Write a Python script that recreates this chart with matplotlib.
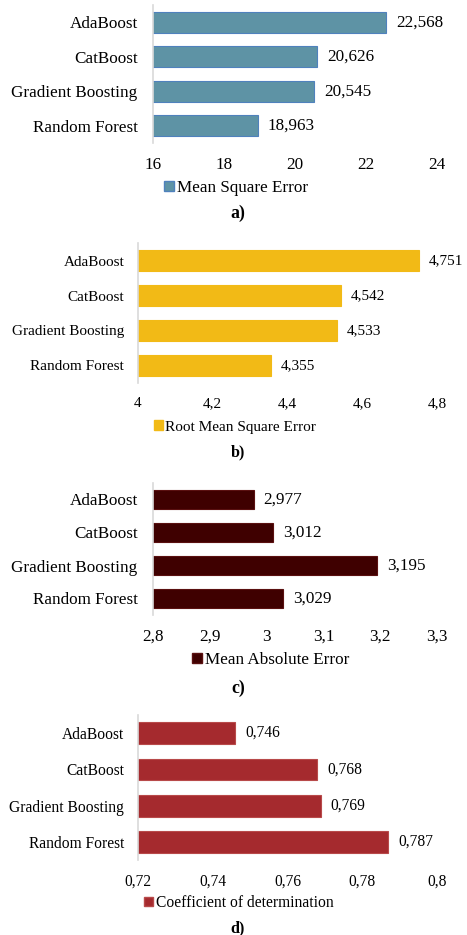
import matplotlib.pyplot as plt
from matplotlib.patches import Patch

plt.rcParams['font.family'] = ['Liberation Serif', 'DejaVu Serif']

models = ['AdaBoost', 'CatBoost', 'Gradient Boosting', 'Random Forest']

mse = [22.568, 20.626, 20.545, 18.963]
rmse = [4.751, 4.542, 4.533, 4.355]
mae = [2.977, 3.012, 3.195, 3.029]
r2 = [0.746, 0.768, 0.769, 0.787]

mse_ticks = [16, 18, 20, 22, 24]
rmse_ticks = [4, 4.2, 4.4, 4.6, 4.8]
mae_ticks = [2.8, 2.9, 3, 3.1, 3.2, 3.3]
r2_ticks = [0.72, 0.74, 0.76, 0.78, 0.8]

W, H = 467, 935
fig = plt.figure(figsize=(W / 100, H / 100), dpi=100)


def px_axes(left, top, right, bottom):
    return fig.add_axes([left / W, 1 - bottom / H, (right - left) / W, (bottom - top) / H])


panels = [
    # caption, values, ticks, label, face, edge, axes box (px), legend left/y (px), caption y, font size
    ('a)', mse, mse_ticks, 'Mean Square Error', '#5E93A5', '#4F81BD', (153, 5, 437, 143), (164, 188), 213, 12.3),
    ('b)', rmse, rmse_ticks, 'Root Mean Square Error', '#F2BA16', '#F2BA16', (138, 243, 437, 383), (154, 427), 452, 11),
    ('c)', mae, mae_ticks, 'Mean Absolute Error', '#3F0000', '#5a1010', (153, 483, 437, 615), (192, 660), 688, 12.3),
    ('d)', r2, r2_ticks, 'Coefficient of determination', '#A52A2E', '#b84a4a', (138, 715, 437, 860), (144, 903), 928, 11.2),
]

renderer = fig.canvas.get_renderer()

for cap, vals, ticks, label, face, edge, box, leg, cap_y, fs in panels:
    ax = px_axes(*box)
    ypos = range(len(models))
    ax.barh(ypos, vals, height=0.6, color=face, edgecolor=edge, linewidth=0.8)
    ax.set_ylim(3.5, -0.5)
    ax.set_xlim(ticks[0], ticks[-1])
    ax.set_yticks(list(ypos))
    ax.set_yticklabels(models, fontsize=fs)
    ax.set_xticks(ticks)
    ax.set_xticklabels([str(t).replace('.', ',') for t in ticks], fontsize=fs)
    ax.tick_params(axis='both', length=0)
    ax.tick_params(axis='x', pad=10)
    ax.tick_params(axis='y', pad=11 if fs > 12 else 10)
    for s in ['top', 'right', 'bottom']:
        ax.spines[s].set_visible(False)
    ax.spines['left'].set_color('#d9d9d9')
    ax.spines['left'].set_linewidth(1.2)
    for y, v in zip(ypos, vals):
        t = ax.annotate(f'{v:.3f}'.replace('.', ','), (v, y), xytext=(7, 0),
                        textcoords='offset points', va='center', ha='left',
                        fontsize=fs, annotation_clip=False)
        # keep the label inside the figure, as the original does
        ext = t.get_window_extent(renderer)
        if ext.x1 > W - 3:
            t.set_position((7 - (ext.x1 - (W - 3)) * 72 / 100, 0))
    fig.legend(handles=[Patch(facecolor=face, edgecolor=edge)], labels=[label],
               loc='center left', bbox_to_anchor=(leg[0] / W, 1 - leg[1] / H),
               frameon=False, fontsize=fs, handlelength=0.6, handleheight=0.6,
               handletextpad=0.15, borderpad=0, borderaxespad=0)
    fig.text(238 / W, 1 - cap_y / H, cap, ha='center', va='center',
             fontsize=fs + 0.5, fontweight='bold')

fig.savefig('out.png', dpi=100)
